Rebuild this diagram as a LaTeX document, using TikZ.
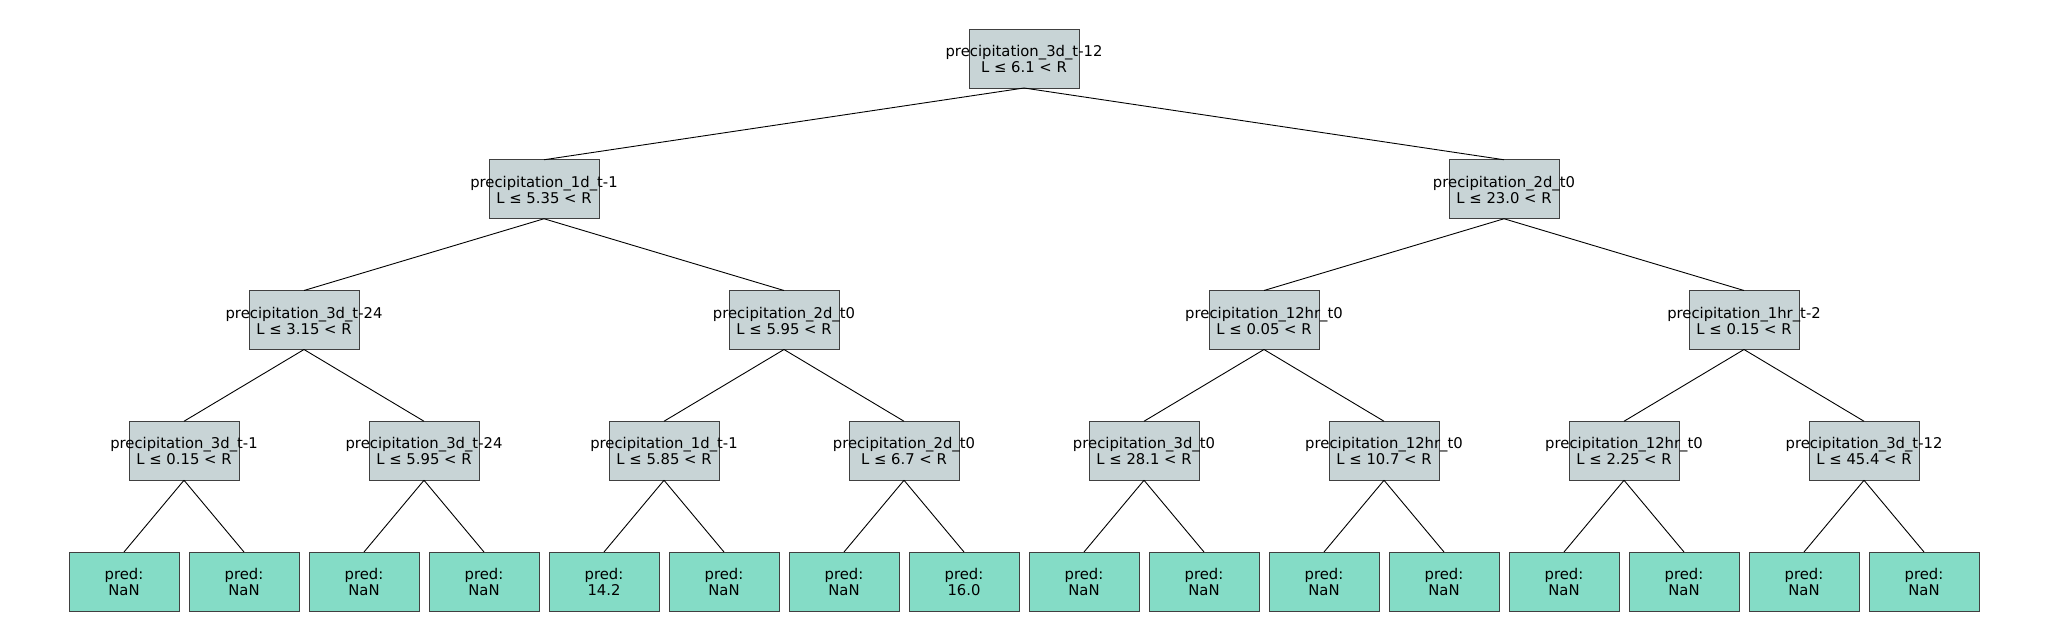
\documentclass[tikz,border=0pt]{standalone}
\usepackage{fontspec}
\setmainfont{DejaVu Sans}
\definecolor{splitfill}{HTML}{C8D4D6}
\definecolor{leaffill}{HTML}{84DCC6}
\definecolor{boxline}{HTML}{404040}
\tikzset{
  box/.style={draw=boxline, line width=1pt, minimum width=110pt, minimum height=59pt, inner sep=0pt, outer sep=0pt},
  splitbox/.style={box, fill=splitfill},
  leafbox/.style={box, fill=leaffill},
  txt/.style={inner sep=0pt, anchor=base, font=\fontsize{14.8pt}{17pt}\selectfont, text=black},
  edge/.style={draw=black, line width=0.9pt}
}
\newcommand\mknode[6]{%
  \node[#1] (#2) at (#3,#4) {};
  \node[txt] (#2-a) at ([yshift=1.8pt]#2.center) {#5};
  \node[txt] (#2-b) at ([yshift=-14pt]#2.center) {#6};
}
\begin{document}
\begin{tikzpicture}[x=1pt,y=-1pt]
\useasboundingbox (0,0) rectangle (2048,640);
% root
\mknode{splitbox}{r}{1024}{58.5}{precipitation\_3d\_t-12}{L ≤ 6.1 < R}
% level 1
\mknode{splitbox}{a}{544}{189.25}{precipitation\_1d\_t-1}{L ≤ 5.35 < R}
\mknode{splitbox}{b}{1504}{189.25}{precipitation\_2d\_t0}{L ≤ 23.0 < R}
% level 2
\mknode{splitbox}{aa}{304}{320}{precipitation\_3d\_t-24}{L ≤ 3.15 < R}
\mknode{splitbox}{ab}{784}{320}{precipitation\_2d\_t0}{L ≤ 5.95 < R}
\mknode{splitbox}{ba}{1264}{320}{precipitation\_12hr\_t0}{L ≤ 0.05 < R}
\mknode{splitbox}{bb}{1744}{320}{precipitation\_1hr\_t-2}{L ≤ 0.15 < R}
% level 3
\mknode{splitbox}{aaa}{184}{450.75}{precipitation\_3d\_t-1}{L ≤ 0.15 < R}
\mknode{splitbox}{aab}{424}{450.75}{precipitation\_3d\_t-24}{L ≤ 5.95 < R}
\mknode{splitbox}{aba}{664}{450.75}{precipitation\_1d\_t-1}{L ≤ 5.85 < R}
\mknode{splitbox}{abb}{904}{450.75}{precipitation\_2d\_t0}{L ≤ 6.7 < R}
\mknode{splitbox}{baa}{1144}{450.75}{precipitation\_3d\_t0}{L ≤ 28.1 < R}
\mknode{splitbox}{bab}{1384}{450.75}{precipitation\_12hr\_t0}{L ≤ 10.7 < R}
\mknode{splitbox}{bba}{1624}{450.75}{precipitation\_12hr\_t0}{L ≤ 2.25 < R}
\mknode{splitbox}{bbb}{1864}{450.75}{precipitation\_3d\_t-12}{L ≤ 45.4 < R}
% leaves
\mknode{leafbox}{l0}{124}{581.5}{pred:}{NaN}
\mknode{leafbox}{l1}{244}{581.5}{pred:}{NaN}
\mknode{leafbox}{l2}{364}{581.5}{pred:}{NaN}
\mknode{leafbox}{l3}{484}{581.5}{pred:}{NaN}
\mknode{leafbox}{l4}{604}{581.5}{pred:}{14.2}
\mknode{leafbox}{l5}{724}{581.5}{pred:}{NaN}
\mknode{leafbox}{l6}{844}{581.5}{pred:}{NaN}
\mknode{leafbox}{l7}{964}{581.5}{pred:}{16.0}
\mknode{leafbox}{l8}{1084}{581.5}{pred:}{NaN}
\mknode{leafbox}{l9}{1204}{581.5}{pred:}{NaN}
\mknode{leafbox}{l10}{1324}{581.5}{pred:}{NaN}
\mknode{leafbox}{l11}{1444}{581.5}{pred:}{NaN}
\mknode{leafbox}{l12}{1564}{581.5}{pred:}{NaN}
\mknode{leafbox}{l13}{1684}{581.5}{pred:}{NaN}
\mknode{leafbox}{l14}{1804}{581.5}{pred:}{NaN}
\mknode{leafbox}{l15}{1924}{581.5}{pred:}{NaN}
% edges
\foreach \p/\c in {r/a, r/b, a/aa, a/ab, b/ba, b/bb,
  aa/aaa, aa/aab, ab/aba, ab/abb, ba/baa, ba/bab, bb/bba, bb/bbb,
  aaa/l0, aaa/l1, aab/l2, aab/l3, aba/l4, aba/l5, abb/l6, abb/l7,
  baa/l8, baa/l9, bab/l10, bab/l11, bba/l12, bba/l13, bbb/l14, bbb/l15}
  \draw[edge] (\p.south) -- (\c.north);
\end{tikzpicture}
\end{document}
